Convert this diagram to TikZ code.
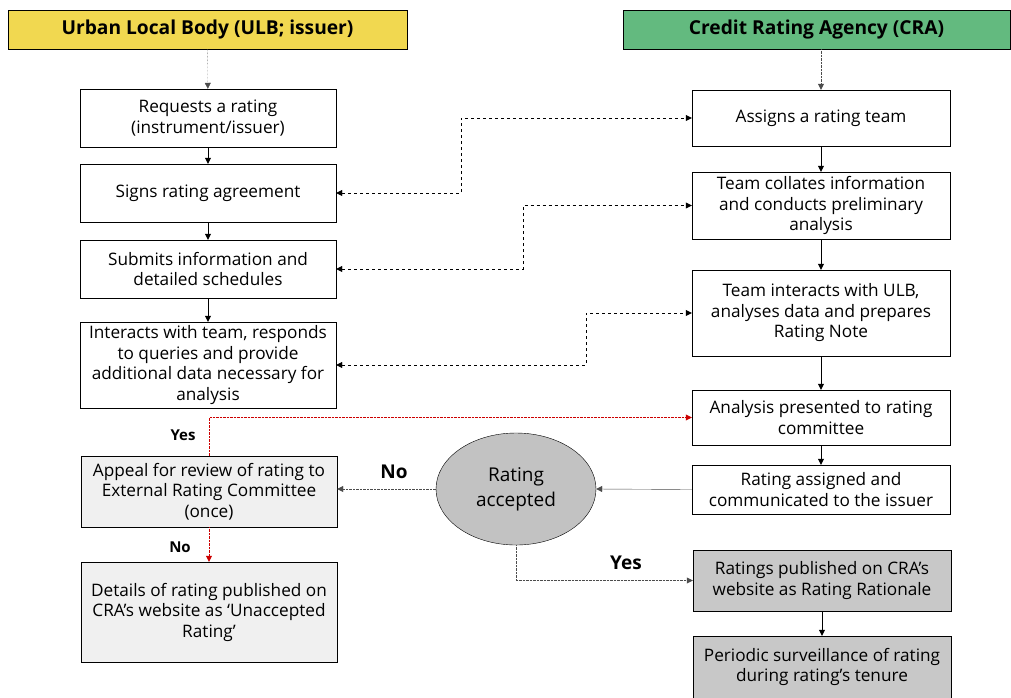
\documentclass[tikz,border=0pt]{standalone}
\usepackage{fontspec}
\setmainfont{Open Sans}
\usepackage{tikz}
\usetikzlibrary{arrows.meta, shapes.geometric}

\definecolor{ulbyellow}{RGB}{241,216,80}
\definecolor{cragreen}{RGB}{99,186,127}
\definecolor{lightbox}{RGB}{240,240,240}
\definecolor{darkbox}{RGB}{200,200,200}
\definecolor{ovalgray}{RGB}{194,194,194}

\tikzset{
	titlebox/.style={draw, thin, inner sep=0pt, font=\fontsize{19.2}{24}\selectfont\bfseries},
	stepbox/.style={draw, thin, fill=white, inner sep=1pt, align=center, font=\fontsize{17.2}{20.5}\selectfont},
	flow/.style={-{Triangle[length=6pt,width=6pt]}, thin},
	dotflow/.style={flow, densely dotted},
	dashflow/.style={{Triangle[length=6pt,width=6pt]}-{Triangle[length=6pt,width=6pt]}, thin, dashed},
	redflow/.style={-{Triangle[length=6pt,width=6pt]}, red!80!black, densely dotted, thin},
	answer/.style={inner sep=0pt}
}

\begin{document}
\begin{tikzpicture}[x=1pt, y=-1pt]
		\useasboundingbox (0,0) rectangle (1011,697);
		% lane titles
		\node[titlebox, fill=ulbyellow, minimum width=399, minimum height=39] (ulb) at (207.5,29.5) {Urban Local Body (ULB; issuer)};
		\node[titlebox, fill=cragreen, minimum width=387, minimum height=39] (cra) at (816.5,29.5) {Credit Rating Agency (CRA)};

		% issuer side
		\node[stepbox, minimum width=256, minimum height=58] (request) at (208,118) {Requests a rating\\(instrument/issuer)};
		\node[stepbox, minimum width=256, minimum height=58] (sign) at (208,193) {Signs rating agreement};
		\node[stepbox, minimum width=256, minimum height=58] (submit) at (208,269) {Submits information and\\detailed schedules};
		\node[stepbox, minimum width=256, minimum height=86] (interact) at (208,365) {Interacts with team, responds\\to queries and provide\\additional data necessary for\\analysis};
		\node[stepbox, fill=lightbox, minimum width=256, minimum height=71] (appeal) at (209,491.5) {Appeal for review of rating to\\External Rating Committee\\(once)};
		\node[stepbox, fill=lightbox, minimum width=256, minimum height=100] (unaccepted) at (209,612) {Details of rating published on\\CRA's website as `Unaccepted\\Rating'};

		% agency side
		\node[stepbox, minimum width=258, minimum height=56] (assign) at (821,118) {Assigns a rating team};
		\node[stepbox, minimum width=258, minimum height=67] (collate) at (821,205.5) {Team collates information\\and conducts preliminary\\analysis};
		\node[stepbox, minimum width=258, minimum height=86] (teamint) at (821,313) {Team interacts with ULB,\\analyses data and prepares\\Rating Note};
		\node[stepbox, minimum width=258, minimum height=55] (present) at (821,417.5) {Analysis presented to rating\\committee};
		\node[stepbox, minimum width=258, minimum height=49] (assigned) at (821,489.5) {Rating assigned and\\communicated to the issuer};
		\node[stepbox, fill=darkbox, minimum width=258, minimum height=61] (publish) at (822,580.5) {Ratings published on CRA's\\website as Rating Rationale};
		\node[stepbox, fill=darkbox, minimum width=258, minimum height=62] (surveil) at (822,667) {Periodic surveillance of rating\\during rating's tenure};

		% decision
		\node[ellipse, draw, thin, fill=ovalgray, minimum width=160, minimum height=112, inner sep=0pt, align=center, font=\fontsize{19}{25}\selectfont] (accepted) at (516,489) {Rating\\accepted};

		% answers
		\node[answer, font=\fontsize{15}{18}\selectfont\bfseries] (yesappeal) at (183,435) {Yes};
		\node[answer, font=\fontsize{15}{18}\selectfont\bfseries] (noappeal) at (180,547) {No};
		\node[answer, font=\fontsize{19}{22}\selectfont\bfseries] (noaccept) at (394,472) {No};
		\node[answer, font=\fontsize{19}{22}\selectfont\bfseries] (yesaccept) at (626,563) {Yes};

		% vertical flows
		\draw[dotflow, gray!60!black] (ulb) -- (request);
		\draw[dotflow, gray!60!black] (cra.south -| assign) -- (assign);
		\draw[flow] (request) -- (sign);
		\draw[flow] (sign) -- (submit);
		\draw[flow] (submit) -- (interact);
		\draw[flow] (assign) -- (collate);
		\draw[flow] (collate) -- (teamint);
		\draw[flow] (teamint) -- (present);
		\draw[flow] (present) -- (assigned);
		\draw[flow] (publish) -- (surveil);

		% exchanges between the two sides
		\draw[dashflow] (sign.east) -- ++(125,0) |- (assign.west);
		\draw[dashflow] (submit.east) -- ++(187,0) |- (collate.west);
		\draw[dashflow] (interact.east) -- ++(250,0) |- (teamint.west);

		% decision outcomes
		\draw[flow, black!70] (assigned.west) -- (accepted.east);
		\draw[dotflow, black!70] (accepted.west) -- (accepted.west -| appeal.east);
		\draw[dotflow, black!70] (accepted.south) |- (publish.west);
		\draw[redflow] (appeal.north) |- (present.west);
		\draw[redflow] (appeal.south) -- (unaccepted.north);
	\end{tikzpicture}
\end{document}
